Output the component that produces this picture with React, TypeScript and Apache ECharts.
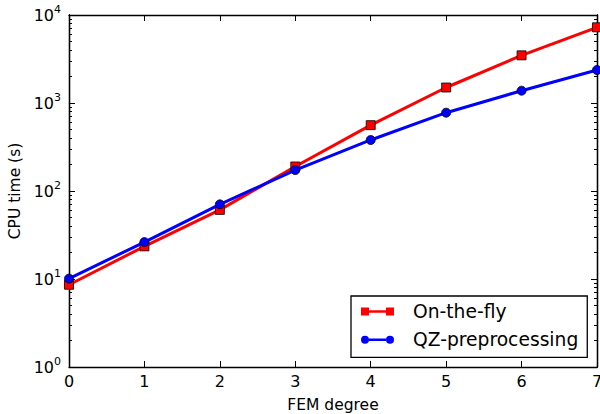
import React, { useEffect, useRef } from "react";
import * as echarts from "echarts";

const degrees = [0, 1, 2, 3, 4, 5, 6, 7];
const onTheFly = [8.6, 23.5, 61, 190, 560, 1500, 3480, 7250];
const qzPre = [10.1, 26.3, 70.5, 173, 380, 776, 1380, 2370];
const seriesNames = ["On-the-fly", "QZ-preprocessing"];
const minorTickValues = [
  2, 3, 4, 5, 6, 7, 8, 9,
  20, 30, 40, 50, 60, 70, 80, 90,
  200, 300, 400, 500, 600, 700, 800, 900,
  2000, 3000, 4000, 5000, 6000, 7000, 8000, 9000,
];

const FONT = "DejaVu Sans";

const squareIcon =
  "path://M0,0L8,0L8,8L0,8Z M25,0L33,0L33,8L25,8Z M8,2.8L25,2.8L25,5.2L8,5.2Z";
const circleIcon =
  "path://M0,4A4,4 0 1,1 8,4A4,4 0 1,1 0,4Z M25,4A4,4 0 1,1 33,4A4,4 0 1,1 25,4Z M8,2.8L25,2.8L25,5.2L8,5.2Z";

export default function App() {
  const ref = useRef<HTMLDivElement>(null);
  useEffect(() => {
    if (!ref.current) return;
    const chart = echarts.init(ref.current, null, { renderer: "svg" });
    const axisLine = { show: true, onZero: false, lineStyle: { color: "#000", width: 1.3 } };
    const logBase = {
      type: "log" as const,
      logBase: 10,
      min: 1,
      max: 10000,
      splitLine: { show: false },
      axisLine,
    };
    chart.setOption({
      animation: false,
      backgroundColor: "#fff",
      textStyle: { fontFamily: FONT },
      grid: {
        left: 69,
        right: 3,
        top: 15,
        bottom: 47,
        containLabel: false,
        outerBoundsMode: "none",
      },
      legend: {
        orient: "vertical",
        left: 351,
        top: 296,
        padding: [6, 9, 8, 10],
        itemWidth: 33,
        itemHeight: 8,
        itemGap: 9.3,
        backgroundColor: "#fff",
        borderColor: "#000",
        borderWidth: 1.3,
        borderRadius: 0,
        itemStyle: { borderWidth: 0 },
        textStyle: {
          fontFamily: FONT,
          fontSize: 18.7,
          color: "#000",
          padding: [0, 0, 0, 14],
        },
        data: [
          { name: seriesNames[0], icon: squareIcon },
          { name: seriesNames[1], icon: circleIcon },
        ],
      },
      xAxis: [
        {
          type: "value",
          min: 0,
          max: 7,
          interval: 1,
          name: "FEM degree",
          nameLocation: "middle",
          nameGap: 30,
          nameTextStyle: { fontFamily: FONT, fontSize: 15.5, color: "#000" },
          axisLine,
          axisTick: { show: true, inside: true, length: 6, lineStyle: { color: "#000", width: 1 } },
          axisLabel: { fontFamily: FONT, fontSize: 16, color: "#000", margin: 6 },
          splitLine: { show: false },
        },
        {
          type: "value",
          position: "top",
          min: 0,
          max: 7,
          interval: 1,
          axisLine,
          axisTick: { show: true, inside: true, length: 6, lineStyle: { color: "#000", width: 1 } },
          axisLabel: { show: false },
          splitLine: { show: false },
        },
      ],
      yAxis: [
        {
          ...logBase,
          position: "left",
          name: "CPU time (s)",
          nameLocation: "middle",
          nameGap: 35,
          nameTextStyle: { fontFamily: FONT, fontSize: 15.5, color: "#000" },
          axisTick: { show: true, inside: true, length: 6, lineStyle: { color: "#000", width: 1 } },
          axisLabel: {
            margin: 8,
            color: "#000",
            formatter: (v: number) => `{b|10}{s|${Math.round(Math.log10(v))}}`,
            rich: {
              b: { fontFamily: FONT, fontSize: 16, color: "#000" },
              s: { fontFamily: FONT, fontSize: 11, color: "#000", padding: [0, 0, 12, 0] },
            },
          },
        },
        {
          ...logBase,
          position: "left",
          axisTick: {
            show: true,
            inside: true,
            length: 3,
            customValues: minorTickValues,
            lineStyle: { color: "#000", width: 1 },
          },
          axisLabel: { show: false },
        },
        {
          ...logBase,
          position: "right",
          axisTick: { show: true, inside: true, length: 6, lineStyle: { color: "#000", width: 1 } },
          axisLabel: { show: false },
        },
        {
          ...logBase,
          position: "right",
          axisTick: {
            show: true,
            inside: true,
            length: 3,
            customValues: minorTickValues,
            lineStyle: { color: "#000", width: 1 },
          },
          axisLabel: { show: false },
        },
      ],
      series: [
        {
          name: seriesNames[0],
          type: "line",
          xAxisIndex: 0,
          yAxisIndex: 0,
          data: degrees.map((d, i) => [d, onTheFly[i]]),
          symbol: "rect",
          symbolSize: 9,
          color: "#ff0000",
          lineStyle: { color: "#ff0000", width: 3 },
          itemStyle: { color: "#ff0000", borderColor: "#000", borderWidth: 0.8 },
          z: 2,
        },
        {
          name: seriesNames[1],
          type: "line",
          xAxisIndex: 0,
          yAxisIndex: 0,
          data: degrees.map((d, i) => [d, qzPre[i]]),
          symbol: "circle",
          symbolSize: 9,
          color: "#0000ff",
          lineStyle: { color: "#0000ff", width: 3 },
          itemStyle: { color: "#0000ff", borderColor: "#000", borderWidth: 0.8 },
          z: 3,
        },
      ],
    });
    return () => chart.dispose();
  }, []);
  return <div ref={ref} style={{ width: 600, height: 414, position: "absolute", left: 0, top: 0 }} />;
}
